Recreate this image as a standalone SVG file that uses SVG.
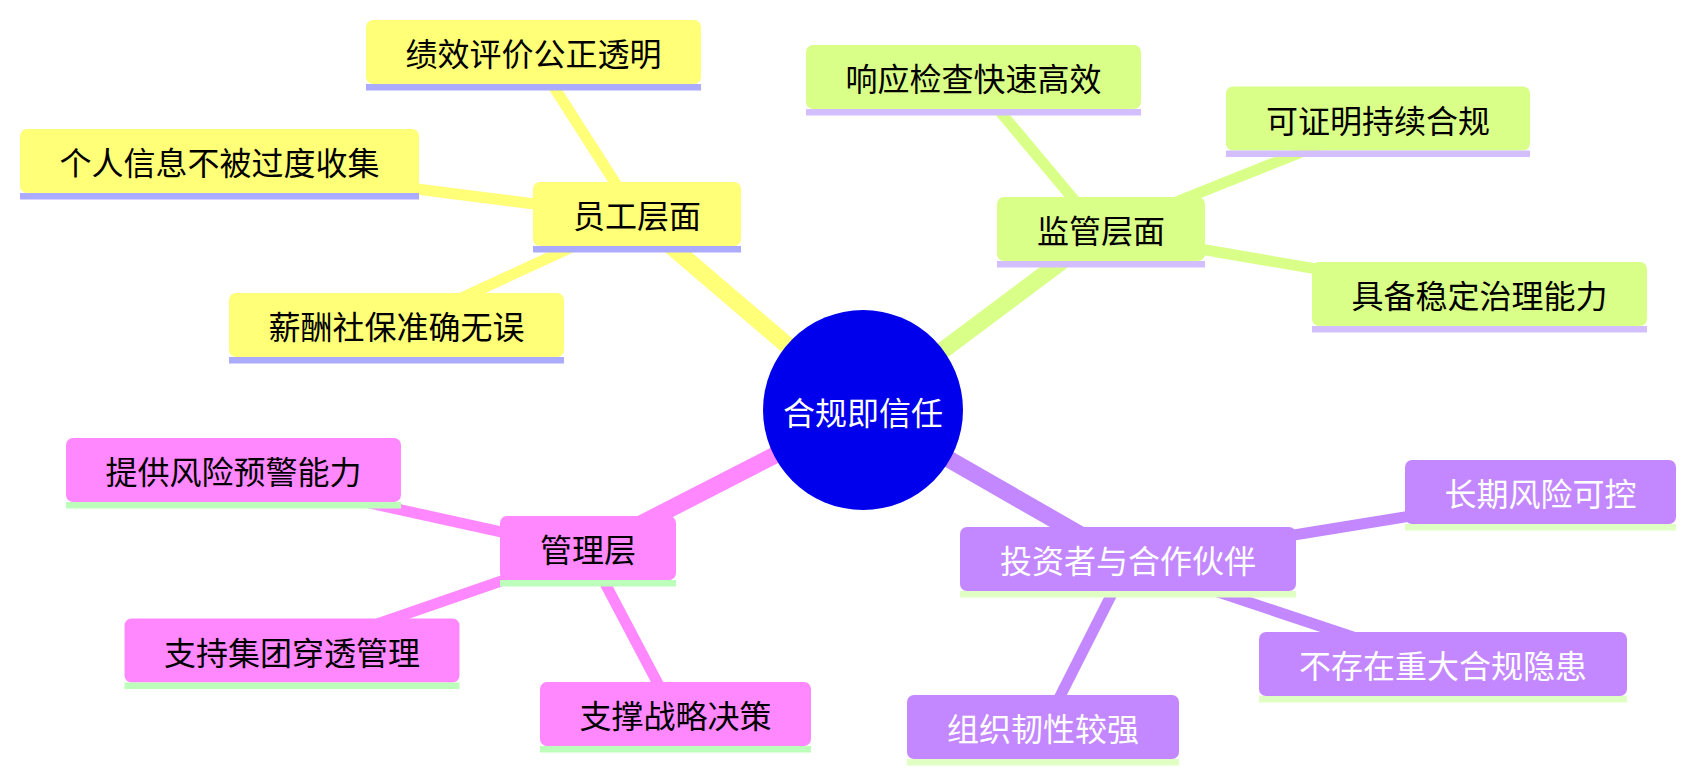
<svg xmlns="http://www.w3.org/2000/svg" width="1696" height="782" viewBox="0 0 1696 782">
<style>
text{font-family:"Noto Sans CJK SC","Noto Sans",sans-serif;font-size:32px;text-anchor:middle;dominant-baseline:central}
.e0{stroke-width:17;stroke-linecap:butt;fill:none}
.e1{stroke-width:11;stroke-linecap:butt;fill:none}
.y{fill:#ffff78}.yl{stroke:#ffff78}.yu{fill:#aaaaff}
.g{fill:#d9ff88}.gl{stroke:#d9ff88}.gu{fill:#d3bfff}
.p{fill:#ff88ff}.pl{stroke:#ff88ff}.pu{fill:#bbffbb}
.v{fill:#c388ff}.vl{stroke:#c388ff}.vu{fill:#e0ffc3}
.dark{fill:#000000}.light{fill:#ffffff}
</style>
<rect width="1696" height="782" fill="#ffffff"/>
<g id="connectors">
<line class="e0 yl" x1="863" y1="410" x2="637" y2="217"/>
<line class="e0 gl" x1="863" y1="410" x2="1101" y2="232"/>
<line class="e0 pl" x1="863" y1="410" x2="588" y2="551"/>
<line class="e0 vl" x1="863" y1="410" x2="1128" y2="562"/>
<line class="e1 yl" x1="637" y1="217" x2="533.5" y2="55"/>
<line class="e1 yl" x1="637" y1="217" x2="219.5" y2="164"/>
<line class="e1 yl" x1="637" y1="217" x2="396.5" y2="328"/>
<line class="e1 gl" x1="1101" y1="232" x2="973.5" y2="80"/>
<line class="e1 gl" x1="1101" y1="232" x2="1378" y2="121.5"/>
<line class="e1 gl" x1="1101" y1="232" x2="1479.5" y2="297"/>
<line class="e1 pl" x1="588" y1="551" x2="233" y2="473"/>
<line class="e1 pl" x1="588" y1="551" x2="292" y2="653.5"/>
<line class="e1 pl" x1="588" y1="551" x2="675.5" y2="717"/>
<line class="e1 vl" x1="1128" y1="562" x2="1540" y2="495"/>
<line class="e1 vl" x1="1128" y1="562" x2="1443" y2="667"/>
<line class="e1 vl" x1="1128" y1="562" x2="1043" y2="730"/>
</g>
<g id="root">
<circle cx="863" cy="410" r="100" fill="#0000ec"/>
<text x="863" y="411" class="light">合规即信任</text>
</g>
<g id="n-yuangong">
<rect class="y" x="533" y="182" width="208" height="64" rx="7"/>
<rect class="yu" x="533" y="246" width="208" height="6.5"/>
<text x="637" y="214" class="dark">员工层面</text>
</g>
<g id="n-jixiao">
<rect class="y" x="366" y="20" width="335" height="64" rx="7"/>
<rect class="yu" x="366" y="84" width="335" height="6.5"/>
<text x="533.5" y="52" class="dark">绩效评价公正透明</text>
</g>
<g id="n-geren">
<rect class="y" x="20" y="129" width="399" height="64" rx="7"/>
<rect class="yu" x="20" y="193" width="399" height="6.5"/>
<text x="219.5" y="161" class="dark">个人信息不被过度收集</text>
</g>
<g id="n-xinchou">
<rect class="y" x="229" y="293" width="335" height="64" rx="7"/>
<rect class="yu" x="229" y="357" width="335" height="6.5"/>
<text x="396.5" y="325" class="dark">薪酬社保准确无误</text>
</g>
<g id="n-jianguan">
<rect class="g" x="997" y="197" width="208" height="64" rx="7"/>
<rect class="gu" x="997" y="261" width="208" height="6.5"/>
<text x="1101" y="229" class="dark">监管层面</text>
</g>
<g id="n-xiangying">
<rect class="g" x="806" y="45" width="335" height="64" rx="7"/>
<rect class="gu" x="806" y="109" width="335" height="6.5"/>
<text x="973.5" y="77" class="dark">响应检查快速高效</text>
</g>
<g id="n-kezhengming">
<rect class="g" x="1226" y="86.5" width="304" height="64" rx="7"/>
<rect class="gu" x="1226" y="150.5" width="304" height="6.5"/>
<text x="1378" y="118.5" class="dark">可证明持续合规</text>
</g>
<g id="n-jubei">
<rect class="g" x="1312" y="262" width="335" height="64" rx="7"/>
<rect class="gu" x="1312" y="326" width="335" height="6.5"/>
<text x="1479.5" y="294" class="dark">具备稳定治理能力</text>
</g>
<g id="n-guanli">
<rect class="p" x="500" y="516" width="176" height="64" rx="7"/>
<rect class="pu" x="500" y="580" width="176" height="6.5"/>
<text x="588" y="548" class="dark">管理层</text>
</g>
<g id="n-tigong">
<rect class="p" x="66" y="438" width="335" height="64" rx="7"/>
<rect class="pu" x="66" y="502" width="335" height="6.5"/>
<text x="233.5" y="470" class="dark">提供风险预警能力</text>
</g>
<g id="n-zhichi">
<rect class="p" x="124.5" y="618.5" width="335" height="64" rx="7"/>
<rect class="pu" x="124.5" y="682.5" width="335" height="6.5"/>
<text x="292" y="650.5" class="dark">支持集团穿透管理</text>
</g>
<g id="n-zhicheng">
<rect class="p" x="540" y="682" width="271" height="64" rx="7"/>
<rect class="pu" x="540" y="746" width="271" height="6.5"/>
<text x="675.5" y="714" class="dark">支撑战略决策</text>
</g>
<g id="n-touzi">
<rect class="v" x="960" y="527" width="336" height="64" rx="7"/>
<rect class="vu" x="960" y="591" width="336" height="6.5"/>
<text x="1128" y="559" class="light">投资者与合作伙伴</text>
</g>
<g id="n-changqi">
<rect class="v" x="1405" y="460" width="271" height="64" rx="7"/>
<rect class="vu" x="1405" y="524" width="271" height="6.5"/>
<text x="1540.5" y="492" class="light">长期风险可控</text>
</g>
<g id="n-bucunzai">
<rect class="v" x="1259" y="632" width="368" height="64" rx="7"/>
<rect class="vu" x="1259" y="696" width="368" height="6.5"/>
<text x="1443" y="664" class="light">不存在重大合规隐患</text>
</g>
<g id="n-zuzhi">
<rect class="v" x="907" y="695" width="272" height="64" rx="7"/>
<rect class="vu" x="907" y="759" width="272" height="6.5"/>
<text x="1043" y="727" class="light">组织韧性较强</text>
</g>
</svg>
